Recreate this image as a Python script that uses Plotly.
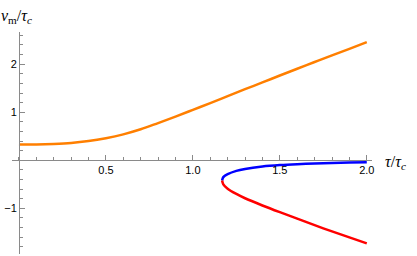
import plotly.graph_objects as go

# Orange branch
tau_orange = [0.0, 0.1, 0.2, 0.3, 0.4, 0.5, 0.6, 0.7, 0.8, 0.9, 1.0,
              1.1, 1.2, 1.3, 1.4, 1.5, 1.6, 1.7, 1.8, 1.9, 2.0]
v_orange = [0.33, 0.33, 0.34, 0.36, 0.40, 0.46, 0.54, 0.645, 0.775, 0.91, 1.05,
            1.19, 1.335, 1.48, 1.62, 1.765, 1.905, 2.045, 2.185, 2.32, 2.46]

# Blue branch
tau_blue = [1.168, 1.175, 1.2, 1.25, 1.3, 1.4, 1.5, 1.6, 1.7, 1.8, 1.9, 2.0]
v_blue = [-0.42, -0.35, -0.29, -0.22, -0.18, -0.13, -0.10, -0.08, -0.065, -0.055, -0.045, -0.04]

# Red branch
tau_red = [1.168, 1.175, 1.2, 1.25, 1.3, 1.4, 1.5, 1.6, 1.7, 1.8, 1.9, 2.0]
v_red = [-0.42, -0.50, -0.59, -0.70, -0.79, -0.94, -1.08, -1.215, -1.35, -1.48, -1.605, -1.73]

x_tickvals = [0.5, 1.0, 1.5, 2.0]
x_ticktext = ["0.5", "1.0", "1.5", "2.0"]
y_tickvals = [-1, 1, 2]
y_ticktext = ["\u22121", "1", "2"]

x_range = [-0.04, 2.03]
y_range = [-1.95, 2.67]

fig = go.Figure()
fig.add_trace(go.Scatter(x=tau_orange, y=v_orange, mode="lines",
                         line=dict(color="rgb(255,127,0)", width=2.5, shape="spline", smoothing=1)))
fig.add_trace(go.Scatter(x=tau_blue, y=v_blue, mode="lines",
                         line=dict(color="rgb(0,0,255)", width=2.5, shape="spline", smoothing=0.8)))
fig.add_trace(go.Scatter(x=tau_red, y=v_red, mode="lines",
                         line=dict(color="rgb(255,0,0)", width=2.5, shape="spline", smoothing=0.8)))

axis_color = "#8a8a8a"
xpos = (0 - y_range[0]) / (y_range[1] - y_range[0])
ypos = (0 - x_range[0]) / (x_range[1] - x_range[0])

fig.update_layout(
    width=417, height=256,
    margin=dict(l=12, r=45, t=32, b=2),
    paper_bgcolor="white", plot_bgcolor="white",
    showlegend=False,
    font=dict(family="Liberation Sans, Arial, sans-serif", size=11, color="black"),
    xaxis=dict(range=x_range, showgrid=False, zeroline=False, automargin=False,
               showline=True, linecolor=axis_color, linewidth=1,
               anchor="free", position=xpos,
               tickmode="array", tickvals=x_tickvals, ticktext=x_ticktext,
               ticks="inside", ticklen=5, tickcolor=axis_color, tickwidth=1,
               minor=dict(dtick=0.1, tick0=0, ticks="inside", ticklen=3,
                          tickcolor=axis_color, tickwidth=1)),
    yaxis=dict(range=y_range, showgrid=False, zeroline=False, automargin=False,
               showline=True, linecolor=axis_color, linewidth=1,
               anchor="free", position=ypos,
               tickmode="array", tickvals=y_tickvals, ticktext=y_ticktext,
               ticks="inside", ticklen=5, tickcolor=axis_color, tickwidth=1,
               minor=dict(dtick=0.2, tick0=0, ticks="inside", ticklen=3,
                          tickcolor=axis_color, tickwidth=1)),
    annotations=[
        dict(text="<i>v</i><sub>m</sub>/<i>\u03c4</i><sub><i>c</i></sub>",
             xref="paper", yref="paper", x=-0.035, y=1.0, yshift=16,
             xanchor="left", yanchor="middle", showarrow=False,
             font=dict(family="Liberation Serif, Times New Roman, serif", size=16)),
        dict(text="<i>\u03c4</i>/<i>\u03c4</i><sub><i>c</i></sub>",
             xref="paper", yref="paper", x=1.0, y=xpos, xshift=11, yshift=-2,
             xanchor="left", yanchor="middle", showarrow=False,
             font=dict(family="Liberation Serif, Times New Roman, serif", size=16)),
    ],
)

fig.write_html("out.html", config={"displayModeBar": False},
               post_script="document.body.style.margin='0';document.body.style.overflow='hidden';")
